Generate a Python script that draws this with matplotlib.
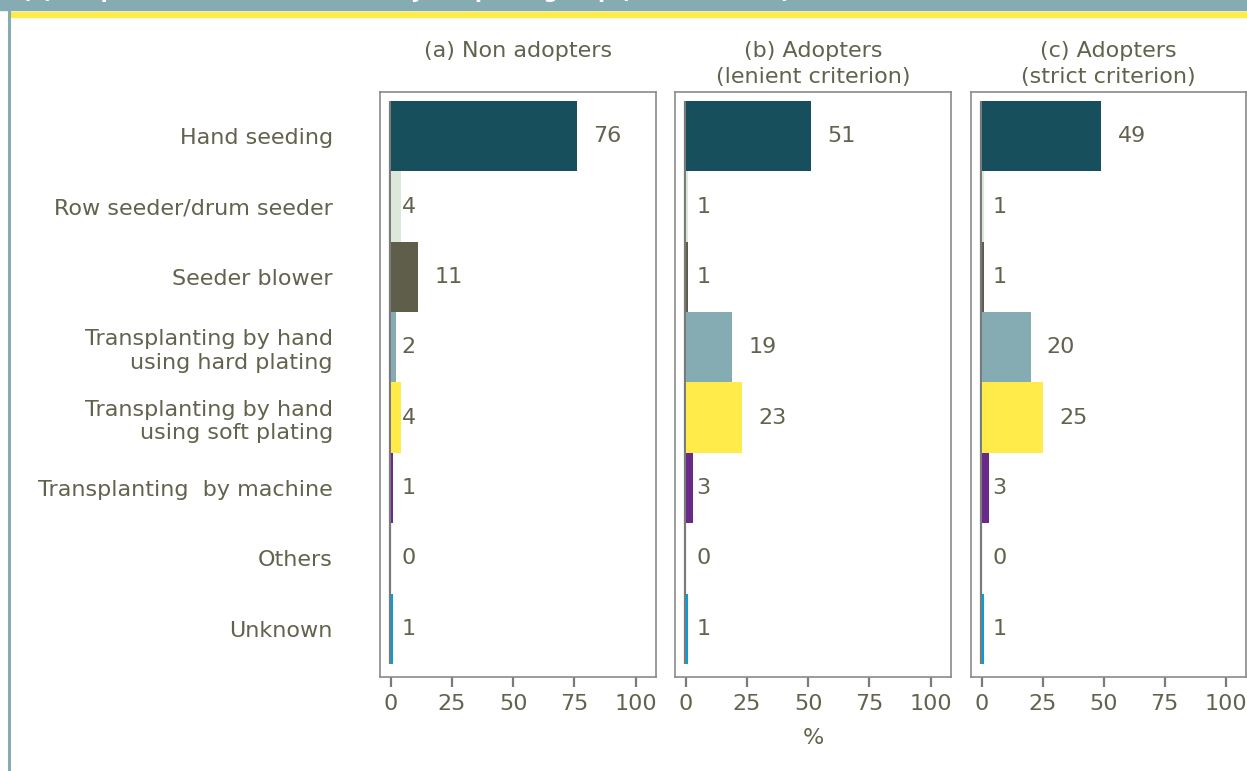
import numpy as np
import matplotlib
matplotlib.use("Agg")
import matplotlib.pyplot as plt
from matplotlib.patches import Rectangle
from matplotlib.lines import Line2D

# establishment methods, top to bottom
methods = [
    "Hand seeding",
    "Row seeder/drum seeder",
    "Seeder blower",
    "Transplanting by hand\nusing hard plating",
    "Transplanting by hand\nusing soft plating",
    "Transplanting  by machine",
    "Others",
    "Unknown",
]
non_adopters = [76, 4, 11, 2, 4, 1, 0, 1]
adopters_lenient = [51, 1, 1, 19, 23, 3, 0, 1]
adopters_strict = [49, 1, 1, 20, 25, 3, 0, 1]

panel_titles = ["(a) Non adopters",
                "(b) Adopters\n(lenient criterion)",
                "(c) Adopters\n(strict criterion)"]
x_ticks = [0, 25, 50, 75, 100]

bar_colors = ["#174f5c", "#dde8dc", "#5f5e4b", "#85abb3",
              "#ffeb4a", "#6a2a8a", "#ffffff", "#00a0e0"]
TEXT = "#62624e"
GREY = "#7a7a7a"
TEAL = "#85abb3"
YELLOW = "#ffeb4a"
FS = 16

W, H = 1247, 771
fig = plt.figure(figsize=(W / 100, H / 100), dpi=100)

# header band, yellow rule and left border
fig.patches.append(Rectangle((0, 1 - 10 / H), 1, 10 / H, transform=fig.transFigure,
                             color=TEAL, zorder=0))
fig.patches.append(Rectangle((10 / W, 1 - 17 / H), 1, 5 / H, transform=fig.transFigure,
                             color=YELLOW, zorder=0))
fig.lines.append(Line2D([8.5 / W, 8.5 / W], [0, 1], transform=fig.transFigure,
                        color=TEAL, lw=2.2))
fig.text(22 / W, 1 + 2 / H, "(c) Crop establishment method by adoption group (% of farmers)",
         color="white", fontsize=15, fontweight="bold", va="baseline", ha="left")

panels = [non_adopters, adopters_lenient, adopters_strict]
lefts = [380, 675, 971]
width_px = 276
bottom_px, top_px = 677, 92

y = np.arange(len(methods))
axes = []
for i, (vals, left) in enumerate(zip(panels, lefts)):
    ax = fig.add_axes([left / W, (H - bottom_px) / H,
                       min(width_px, W - 1 - left) / W, (bottom_px - top_px) / H])
    axes.append(ax)
    ax.vlines(-0.45, -0.5, 7.5, color=GREY, lw=1.6, zorder=1)
    ax.barh(y, vals, height=1.0, color=bar_colors, linewidth=0, zorder=2)
    for yi, v in zip(y, vals):
        xpos = v + 12.5 if v >= 10 else 7.3
        ax.text(xpos, yi, f"{v}", ha="center", va="center", fontsize=FS, color=TEXT)

    ax.set_xlim(-4.4, 108.3)
    ax.set_ylim(7.685, -0.628)
    ax.set_xticks(x_ticks)
    ax.set_yticks(y)
    if i == 0:
        ax.set_yticklabels(methods, fontsize=FS, color=TEXT, ha="right")
    else:
        ax.set_yticklabels([])
    ax.tick_params(axis="y", length=0, pad=34)
    ax.tick_params(axis="x", length=7, width=1.6, color=GREY, pad=5,
                   labelsize=FS, labelcolor=TEXT)
    for s in ax.spines.values():
        s.set_color("#8a8a8a")
        s.set_linewidth(1.2)
    ax.text(0.5, 1 + 51 / 585, panel_titles[i], transform=ax.transAxes,
            ha="center", va="top", fontsize=FS, color=TEXT, linespacing=1.4)

axes[1].set_xlabel("%", fontsize=FS, color=TEXT, labelpad=10)

fig.savefig("out.png", dpi=100)
